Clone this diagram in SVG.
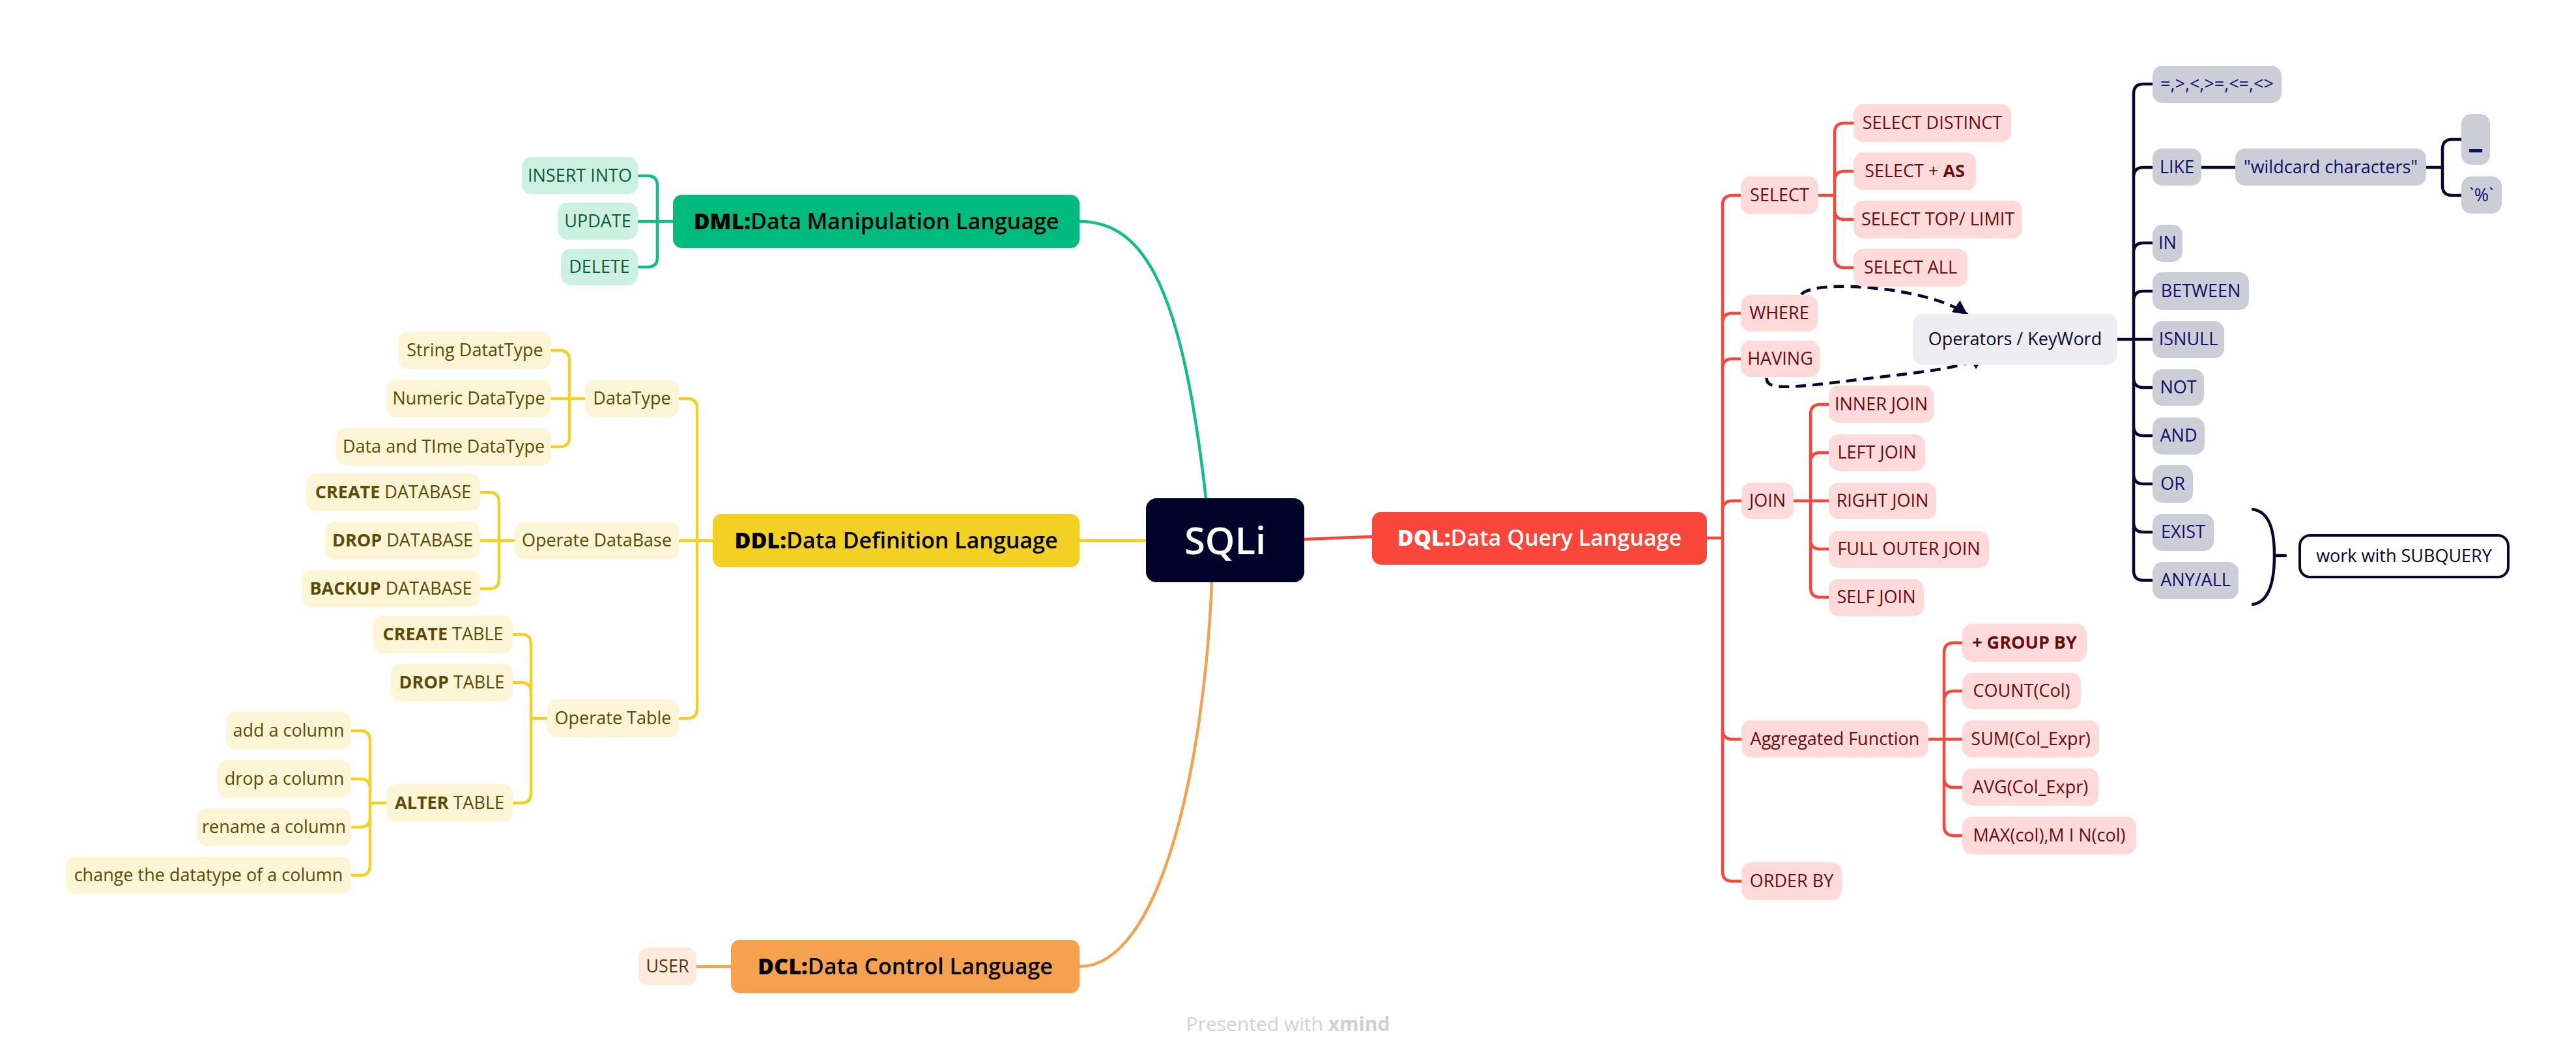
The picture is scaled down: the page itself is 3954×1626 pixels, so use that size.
<svg xmlns="http://www.w3.org/2000/svg" width="3954" height="1626" viewBox="0 0 3954 1626">
<defs>
<style>
text{font-family:"Open Sans","Liberation Sans",sans-serif;text-anchor:middle}
.t{font-size:27px}
.h{font-size:34px;font-weight:600}
.b{font-weight:800}
.bb{font-weight:700}
.gn rect{fill:#CCF1E3}.gn text{fill:#0B5C3C}
.yl rect{fill:#FDF6D6}.yl text{fill:#5A4B00}
.rd rect{fill:#FFDADA}.rd text{fill:#6B0B0B}
.gy rect{fill:#CDCDD7}.gy text{fill:#0E0E6E}
.c{fill:none;stroke-linecap:round;stroke-linejoin:round}
.cg{stroke:#12BE82;stroke-width:4.5}
.cy{stroke:#F2D024;stroke-width:4.5}
.co{stroke:#F6A14E;stroke-width:4.5}
.cr{stroke:#F9463B;stroke-width:4.5}
.cn{stroke:#06052B;stroke-width:4.5}
.dash{fill:none;stroke:#06052B;stroke-width:4.5;stroke-dasharray:16 10}
</style>
<marker id="arr" viewBox="0 0 10 10" refX="10" refY="5" markerWidth="22" markerHeight="22" markerUnits="userSpaceOnUse" orient="auto">
<path d="M0,0 L10,5 L0,10 z" fill="#06052B"/>
</marker>
</defs>
<rect width="3954" height="1626" fill="#FFFFFF"/>

<g id="connectors">
<path class="c cg" d="M1657,340 C1760,340 1815,450 1851,765"/>
<path class="c cy" d="M1657,830 H1759"/>
<path class="c co" d="M1860,894 C1848,1180 1780,1484 1657,1484"/>
<path class="c cr" d="M2002,828 L2106,824"/>
<path class="c cg" d="M979,270 H994 Q1009,270 1009,285 V395 Q1009,410 994,410 H979 M979,340 H1033"/>
<path class="c cy" d="M1042,612 H1055 Q1070,612 1070,627 V1088 Q1070,1103 1055,1103 H1042 M1042,830 H1094"/>
<path class="c cy" d="M846,538 H859 Q874,538 874,553 V671 Q874,686 859,686 H846 M846,612 H898"/>
<path class="c cy" d="M737,756 H751 Q766,756 766,771 V889 Q766,904 751,904 H737 M737,830 H790"/>
<path class="c cy" d="M787,974 H800 Q815,974 815,989 V1218 Q815,1233 800,1233 H787 M787,1048 H800 Q815,1048 815,1063 M815,1103 H840"/>
<path class="c cy" d="M539,1122 H553 Q568,1122 568,1137 V1329 Q568,1344 553,1344 H539 M539,1196 H553 Q568,1196 568,1211 M539,1270 H553 Q568,1270 568,1255 M568,1233 H593"/>
<path class="c co" d="M1069,1484 H1122"/>
<path class="c cr" d="M2620,826 H2644 M2672,300 H2659 Q2644,300 2644,315 V1338 Q2644,1353 2659,1353 H2672 M2644,496 Q2644,481 2659,481 H2672 M2644,566 Q2644,551 2659,551 H2672 M2644,784 Q2644,769 2659,769 H2673 M2644,1120 Q2644,1135 2659,1135 H2673"/>
<path class="c cr" d="M2791,300 H2816 M2845,189 H2831 Q2816,189 2816,204 V396 Q2816,411 2831,411 H2845 M2816,278 Q2816,263 2831,263 H2845 M2816,322 Q2816,337 2831,337 H2845"/>
<path class="c cr" d="M2753,769 H2807 M2807,621 H2794 Q2779,621 2779,636 V902 Q2779,917 2794,917 H2807 M2779,710 Q2779,695 2794,695 H2807 M2779,828 Q2779,843 2794,843 H2807"/>
<path class="c cr" d="M2960,1135 H3012 M3012,987 H2999 Q2984,987 2984,1002 V1268 Q2984,1283 2999,1283 H3012 M2984,1076 Q2984,1061 2999,1061 H3012 M2984,1194 Q2984,1209 2999,1209 H3012"/>
<path class="c cn" d="M3250,521 H3304 M3304,129 H3290 Q3275,129 3275,144 V876 Q3275,891 3290,891 H3304 M3275,272 Q3275,257 3290,257 H3304 M3275,388 Q3275,373 3290,373 H3304 M3275,462 Q3275,447 3290,447 H3304 M3275,580 Q3275,595 3290,595 H3304 M3275,654 Q3275,669 3290,669 H3304 M3275,728 Q3275,743 3290,743 H3304 M3275,802 Q3275,817 3290,817 H3304"/>
<path class="c cn" d="M3379,257 H3431"/>
<path class="c cn" d="M3724,257 H3749 M3778,214 H3764 Q3749,214 3749,229 V285 Q3749,300 3764,300 H3778"/>
<path class="c cn" d="M3458,782 C3484,786 3491,815 3491,853 C3491,891 3484,924 3458,928 M3491,853 H3508"/>
<path class="dash" d="M2765,452 C2785,428 2960,440 3020,483" marker-end="url(#arr)"/>
<path class="dash" d="M2712,580 C2708,602 2760,594 2860,582 C2960,570 3015,565 3046,546" marker-end="url(#arr)"/>
</g>

<g id="root"><rect x="1759" y="765" width="243" height="129" rx="16" fill="#02022B"/><text x="1880.5" y="851" font-size="58" font-weight="600" fill="#FFFFFF">SQLi</text></g>

<g id="dml"><rect x="1033" y="299" width="624" height="82" rx="14" fill="#00BB7D"/><text class="h" x="1345" y="352" fill="#000"><tspan class="b">DML:</tspan>Data Manipulation Language</text></g>
<g id="dml-insert" class="gn"><rect x="801" y="241" width="178" height="57" rx="15"/><text class="t" x="890" y="279">INSERT INTO</text></g>
<g id="dml-update" class="gn"><rect x="856" y="311" width="123" height="57" rx="15"/><text class="t" x="917.5" y="349">UPDATE</text></g>
<g id="dml-delete" class="gn"><rect x="861" y="382" width="118" height="56" rx="15"/><text class="t" x="920" y="419">DELETE</text></g>

<g id="ddl"><rect x="1094" y="789" width="563" height="82" rx="14" fill="#F3D124"/><text class="h" x="1375.5" y="842" fill="#000"><tspan class="b">DDL:</tspan>Data Definition Language</text></g>
<g id="ddl-datatype" class="yl"><rect x="898" y="583" width="144" height="58" rx="15"/><text class="t" x="970" y="621">DataType</text></g>
<g id="ddl-string" class="yl"><rect x="612" y="509" width="234" height="58" rx="15"/><text class="t" x="729" y="547">String DatatType</text></g>
<g id="ddl-numeric" class="yl"><rect x="593" y="583" width="253" height="58" rx="15"/><text class="t" x="719.5" y="621">Numeric DataType</text></g>
<g id="ddl-datetime" class="yl"><rect x="516" y="657" width="330" height="58" rx="15"/><text class="t" x="681" y="695">Data and TIme DataType</text></g>
<g id="ddl-opdb" class="yl"><rect x="790" y="801" width="252" height="58" rx="15"/><text class="t" x="916" y="839">Operate DataBase</text></g>
<g id="ddl-createdb" class="yl"><rect x="470" y="727" width="267" height="58" rx="15"/><text class="t" x="603.5" y="765"><tspan class="bb">CREATE</tspan> DATABASE</text></g>
<g id="ddl-dropdb" class="yl"><rect x="499" y="801" width="238" height="58" rx="15"/><text class="t" x="618" y="839"><tspan class="bb">DROP</tspan> DATABASE</text></g>
<g id="ddl-backupdb" class="yl"><rect x="463" y="875" width="274" height="58" rx="15"/><text class="t" x="600" y="913"><tspan class="bb">BACKUP</tspan> DATABASE</text></g>
<g id="ddl-optable" class="yl"><rect x="840" y="1074" width="202" height="58" rx="15"/><text class="t" x="941" y="1112">Operate Table</text></g>
<g id="ddl-createtable" class="yl"><rect x="573" y="945" width="214" height="58" rx="15"/><text class="t" x="680" y="983"><tspan class="bb">CREATE</tspan> TABLE</text></g>
<g id="ddl-droptable" class="yl"><rect x="600" y="1019" width="187" height="58" rx="15"/><text class="t" x="693.5" y="1057"><tspan class="bb">DROP</tspan> TABLE</text></g>
<g id="ddl-altertable" class="yl"><rect x="593" y="1204" width="194" height="58" rx="15"/><text class="t" x="690" y="1242"><tspan class="bb">ALTER</tspan> TABLE</text></g>
<g id="ddl-addcol" class="yl"><rect x="347" y="1093" width="192" height="58" rx="15"/><text class="t" x="443" y="1131">add a column</text></g>
<g id="ddl-dropcol" class="yl"><rect x="334" y="1167" width="205" height="58" rx="15"/><text class="t" x="436.5" y="1205">drop a column</text></g>
<g id="ddl-renamecol" class="yl"><rect x="302" y="1241" width="237" height="58" rx="15"/><text class="t" x="420.5" y="1279">rename a column</text></g>
<g id="ddl-changecol" class="yl"><rect x="101" y="1315" width="438" height="58" rx="15"/><text class="t" x="320" y="1353">change the datatype of a column</text></g>

<g id="dcl"><rect x="1122" y="1443" width="535" height="82" rx="14" fill="#F6A14E"/><text class="h" x="1389.5" y="1496" fill="#000"><tspan class="b">DCL:</tspan>Data Control Language</text></g>
<g id="dcl-user"><rect x="980" y="1455" width="89" height="58" rx="15" fill="#FEEBDB"/><text class="t" x="1024.5" y="1493" fill="#5C3310">USER</text></g>

<g id="dql"><rect x="2106" y="786" width="514" height="81" rx="14" fill="#FA463B"/><text class="h" x="2363" y="838" fill="#FFFFFF"><tspan class="b">DQL:</tspan>Data Query Language</text></g>
<g id="dql-select" class="rd"><rect x="2672" y="271" width="119" height="58" rx="15"/><text class="t" x="2731.5" y="309">SELECT</text></g>
<g id="dql-distinct" class="rd"><rect x="2845" y="160" width="242" height="58" rx="15"/><text class="t" x="2966" y="198">SELECT DISTINCT</text></g>
<g id="dql-as" class="rd"><rect x="2845" y="234" width="188" height="58" rx="15"/><text class="t" x="2939" y="272">SELECT + <tspan class="bb">AS</tspan></text></g>
<g id="dql-top" class="rd"><rect x="2845" y="308" width="259" height="58" rx="15"/><text class="t" x="2974.5" y="346">SELECT TOP/ LIMIT</text></g>
<g id="dql-all" class="rd"><rect x="2845" y="382" width="175" height="58" rx="15"/><text class="t" x="2932.5" y="420">SELECT ALL</text></g>
<g id="dql-where" class="rd"><rect x="2672" y="453" width="118" height="56" rx="15"/><text class="t" x="2731" y="490">WHERE</text></g>
<g id="dql-having" class="rd"><rect x="2672" y="523" width="121" height="56" rx="15"/><text class="t" x="2732.5" y="560">HAVING</text></g>
<g id="dql-join" class="rd"><rect x="2673" y="741" width="80" height="56" rx="15"/><text class="t" x="2713" y="778">JOIN</text></g>
<g id="dql-inner" class="rd"><rect x="2807" y="592" width="161" height="57" rx="15"/><text class="t" x="2887.5" y="630">INNER JOIN</text></g>
<g id="dql-left" class="rd"><rect x="2807" y="667" width="148" height="56" rx="15"/><text class="t" x="2881" y="704">LEFT JOIN</text></g>
<g id="dql-right" class="rd"><rect x="2807" y="741" width="165" height="56" rx="15"/><text class="t" x="2889.5" y="778">RIGHT JOIN</text></g>
<g id="dql-full" class="rd"><rect x="2807" y="815" width="246" height="57" rx="15"/><text class="t" x="2930" y="852">FULL OUTER JOIN</text></g>
<g id="dql-self" class="rd"><rect x="2807" y="889" width="146" height="57" rx="15"/><text class="t" x="2880" y="926">SELF JOIN</text></g>
<g id="dql-agg" class="rd"><rect x="2673" y="1106" width="287" height="57" rx="15"/><text class="t" x="2816.5" y="1144">Aggregated Function</text></g>
<g id="dql-groupby" class="rd"><rect x="3012" y="958" width="191" height="58" rx="15"/><text class="t bb" x="3107.5" y="996">+ GROUP BY</text></g>
<g id="dql-count" class="rd"><rect x="3012" y="1033" width="182" height="56" rx="15"/><text class="t" x="3103" y="1070">COUNT(Col)</text></g>
<g id="dql-sum" class="rd"><rect x="3012" y="1106" width="210" height="57" rx="15"/><text class="t" x="3117" y="1144">SUM(Col_Expr)</text></g>
<g id="dql-avg" class="rd"><rect x="3012" y="1180" width="209" height="57" rx="15"/><text class="t" x="3116.5" y="1218">AVG(Col_Expr)</text></g>
<g id="dql-maxmin" class="rd"><rect x="3012" y="1254" width="267" height="58" rx="15"/><text class="t" x="3145.5" y="1292">MAX(col),M I N(col)</text></g>
<g id="dql-orderby" class="rd"><rect x="2673" y="1324" width="154" height="58" rx="15"/><text class="t" x="2750" y="1362">ORDER BY</text></g>

<g id="operators"><rect x="2936" y="482" width="314" height="78" rx="15" fill="#EEEDF2"/><text class="t" x="3093" y="530" font-weight="500" fill="#0A0A2E">Operators / KeyWord</text></g>
<g id="op-compare" class="gy"><rect x="3304" y="101" width="198" height="57" rx="15"/><text class="t" x="3403" y="138">=,&gt;,&lt;,&gt;=,&lt;=,&lt;&gt;</text></g>
<g id="op-like" class="gy"><rect x="3304" y="228" width="75" height="57" rx="15"/><text class="t" x="3341.5" y="266">LIKE</text></g>
<g id="op-wildcard" class="gy"><rect x="3431" y="228" width="293" height="57" rx="15"/><text class="t" x="3577.5" y="266">"wildcard characters"</text></g>
<g id="op-underscore" class="gy"><rect x="3778" y="175" width="44" height="78" rx="15"/><text x="3800" y="226" font-size="40" font-weight="800">_</text></g>
<g id="op-percent" class="gy"><rect x="3778" y="271" width="62" height="57" rx="15"/><text class="t" x="3809" y="309">`%`</text></g>
<g id="op-in" class="gy"><rect x="3304" y="345" width="46" height="57" rx="15"/><text class="t" x="3327" y="382">IN</text></g>
<g id="op-between" class="gy"><rect x="3304" y="418" width="148" height="58" rx="15"/><text class="t" x="3378" y="456">BETWEEN</text></g>
<g id="op-isnull" class="gy"><rect x="3304" y="493" width="110" height="57" rx="15"/><text class="t" x="3359" y="530">ISNULL</text></g>
<g id="op-not" class="gy"><rect x="3304" y="567" width="79" height="56" rx="15"/><text class="t" x="3343.5" y="604">NOT</text></g>
<g id="op-and" class="gy"><rect x="3304" y="641" width="80" height="57" rx="15"/><text class="t" x="3344" y="678">AND</text></g>
<g id="op-or" class="gy"><rect x="3304" y="714" width="62" height="58" rx="15"/><text class="t" x="3335" y="752">OR</text></g>
<g id="op-exist" class="gy"><rect x="3304" y="789" width="94" height="57" rx="15"/><text class="t" x="3351" y="826">EXIST</text></g>
<g id="op-anyall" class="gy"><rect x="3304" y="863" width="132" height="57" rx="15"/><text class="t" x="3370" y="900">ANY/ALL</text></g>
<g id="summary"><rect x="3530" y="822" width="320" height="64" rx="16" fill="#FFFFFF" stroke="#06052B" stroke-width="4"/><text class="t" x="3690" y="863" fill="#06052B">work with SUBQUERY</text></g>

<g id="footer"><text x="1977" y="1583" font-size="30" fill="#D1D1D1">Presented with <tspan font-weight="700">xmind</tspan></text></g>
</svg>
